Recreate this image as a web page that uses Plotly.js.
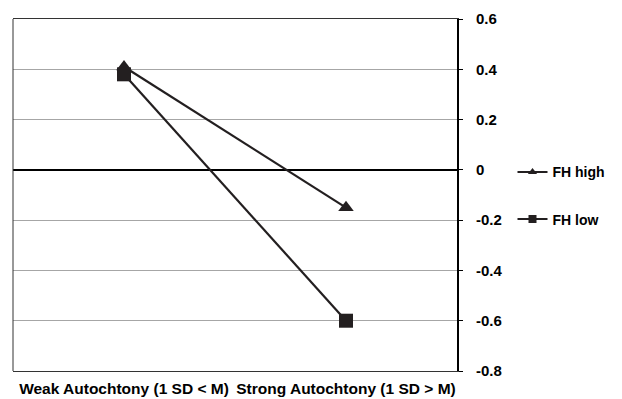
<!DOCTYPE html>
<html>
<head>
<meta charset="utf-8">
<script src="https://cdn.plot.ly/plotly-3.0.1.min.js"></script>
<style>html,body{margin:0;padding:0;background:#fff;}#chart{width:622px;height:399px;}</style>
</head>
<body>
<div id="chart"></div>
<script>
// Data
var categories = ["Weak Autochtony (1 SD < M)", "Strong Autochtony (1 SD > M)"];
var fhHigh = [0.41, -0.15];
var fhLow = [0.38, -0.60];
var seriesNames = ["FH high", "FH low"];
var yTickVals = [0.6, 0.4, 0.2, 0, -0.2, -0.4, -0.6, -0.8];
var yTickText = ["0.6", "0.4", "0.2", "0", "-0.2", "-0.4", "-0.6", "-0.8"];

var ink = "#231f20";
var xIdx = categories.map(function(_, i){ return i; });

var traces = [
  {x: xIdx, y: fhHigh, name: seriesNames[0], type: "scatter", mode: "lines+markers",
   showlegend: false,
   line: {color: ink, width: 2.2}, marker: {symbol: "triangle-up", size: 13.5, color: ink}},
  {x: xIdx, y: fhLow, name: seriesNames[1], type: "scatter", mode: "lines+markers",
   showlegend: false,
   line: {color: ink, width: 2.2}, marker: {symbol: "square", size: 14, color: ink}},
  // legend entries (smaller legend symbols, as in the original)
  {x: [null], y: [null], name: seriesNames[0], type: "scatter", mode: "lines+markers",
   legendgroup: "a",
   line: {color: ink, width: 2}, marker: {symbol: "triangle-up", size: 8, color: ink}},
  {x: [null], y: [null], name: seriesNames[1], type: "scatter", mode: "lines+markers",
   legendgroup: "b",
   line: {color: ink, width: 2}, marker: {symbol: "square", size: 8, color: ink}}
];

var layout = {
  width: 622, height: 399,
  margin: {l: 13, r: 152, t: 19, b: 28, pad: 0},
  paper_bgcolor: "#fff", plot_bgcolor: "#fff",
  font: {family: "Liberation Sans, Arial, sans-serif", color: "#000"},
  showlegend: true,
  legend: {x: 1.125, y: 0.61, xanchor: "left", yanchor: "top",
           font: {size: 14, weight: "bold", color: "#000"},
           tracegroupgap: 26, itemwidth: 30, bgcolor: "rgba(0,0,0,0)"},
  xaxis: {range: [-0.5, 1.5], tickvals: xIdx, ticktext: categories, tickangle: 0,
          showgrid: false, zeroline: false, ticks: "",
          showline: true, mirror: true, linecolor: "#333", linewidth: 1,
          tickfont: {size: 15.5, weight: "bold", color: "#000"}, ticklabelstandoff: 3},
  yaxis: {side: "right", range: [-0.8, 0.6], tickvals: yTickVals, ticktext: yTickText,
          showgrid: true, gridcolor: "#a6a6a6", gridwidth: 1,
          zeroline: true, zerolinecolor: "#000", zerolinewidth: 1.5,
          showline: true, linecolor: "#000", linewidth: 2,
          ticks: "outside", ticklen: 4, tickcolor: "#000", tickwidth: 1,
          ticklabelstandoff: 10,
          tickfont: {size: 15, weight: "bold", color: "#000"}},
  shapes: [{type: "line", xref: "paper", yref: "paper", x0: 0, x1: 0, y0: 0, y1: 1,
            line: {color: "#333", width: 1}}]
};

Plotly.newPlot("chart", traces, layout, {displayModeBar: false, staticPlot: true});
</script>
</body>
</html>
